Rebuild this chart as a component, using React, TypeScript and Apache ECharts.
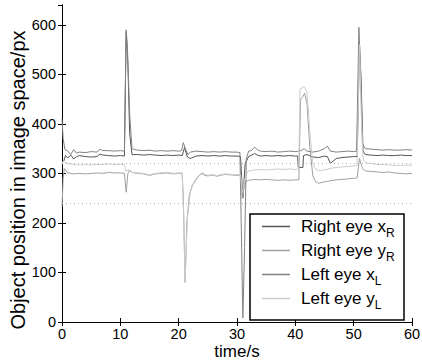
import React, { useEffect, useRef } from "react";
import * as echarts from "echarts";

// time/s vs position/px
const xL: [number, number][] = [
  [0, 410], [0.2, 370], [0.5, 348], [1, 345], [1.5, 338], [2, 348], [2.5, 341], [3, 343], [4, 342], [5, 344], [6, 343], [6.5, 349],
  [7, 346], [8, 346], [9, 345], [10, 346], [10.7, 345], [11, 590], [11.2, 560], [11.6, 420], [12, 350], [12.5, 348], [13, 347],
  [14, 346], [15, 347], [16, 345], [17, 346], [18, 345], [19, 346], [20, 345], [20.5, 346], [20.8, 362], [21.2, 348], [21.6, 338],
  [22, 343], [23, 345], [24, 344], [25, 343], [26, 344], [27, 343], [28, 344], [29, 343], [30, 343], [30.5, 342], [30.8, 150],
  [31, 8], [31.3, 150], [31.6, 330], [32, 345], [32.5, 346], [33, 353], [33.5, 348], [34, 345], [35, 344], [36, 345], [37, 343],
  [38, 344], [39, 345], [40, 344], [40.5, 345], [41, 346], [41.5, 350], [42, 345], [43, 343], [44, 345], [45, 350], [45.5, 355],
  [46, 345], [47, 343], [48, 344], [49, 345], [50, 344], [50.5, 345], [50.9, 595], [51.2, 500], [51.5, 360], [52, 350], [53, 349],
  [54, 348], [55, 347], [56, 348], [57, 347], [58, 347], [59, 348], [60, 347],
];

const xR: [number, number][] = [
  [0.3, 325], [0.6, 336], [1, 331], [1.5, 337], [2, 329], [2.5, 334], [3, 336], [4, 334], [5, 333], [6, 334], [6.5, 339], [7, 337],
  [8, 336], [9, 335], [10, 336], [10.7, 335], [11, 585], [11.3, 520], [11.6, 380], [12, 338], [13, 338], [14, 337], [15, 338],
  [16, 337], [17, 336], [18, 337], [19, 336], [20, 337], [20.6, 336], [21, 352], [21.5, 333], [22, 330], [23, 335], [24, 336],
  [25, 335], [26, 336], [27, 335], [28, 336], [29, 335], [30, 335], [30.6, 334], [31, 250], [31.4, 320], [32, 334], [33, 340],
  [33.5, 337], [34, 335], [35, 336], [36, 335], [37, 336], [38, 335], [39, 336], [40, 335], [40.4, 335], [40.5, 312], [41.3, 312],
  [41.4, 336], [42, 338], [43, 333], [44, 332], [45, 335], [45.5, 334], [46, 320], [46.5, 325], [47, 330], [48, 332], [49, 333],
  [50, 334], [50.6, 334], [51, 560], [51.3, 480], [51.6, 345], [52, 338], [53, 337], [54, 336], [55, 337], [56, 336], [57, 336],
  [58, 337], [59, 336], [60, 336],
];

const yR: [number, number][] = [
  [0, 232], [0.2, 290], [0.4, 310], [0.7, 305], [1, 301], [2, 299], [3, 300], [4, 299], [5, 300], [6, 301], [7, 300], [8, 302],
  [9, 301], [10, 301], [10.7, 300], [11, 262], [11.3, 300], [11.6, 307], [12, 302], [13, 300], [14, 299], [15, 296], [16, 299],
  [17, 300], [18, 301], [19, 299], [20, 300], [20.6, 300], [20.8, 250], [21.1, 80], [21.4, 200], [21.8, 255], [22.3, 275],
  [23, 288], [23.5, 295], [24, 300], [24.5, 296], [25, 295], [26, 297], [26.5, 294], [27, 296], [28, 298], [29, 297], [30, 296],
  [30.6, 297], [30.9, 250], [31.2, 270], [31.6, 285], [32, 286], [33, 288], [34, 287], [35, 288], [36, 287], [37, 286], [38, 287],
  [39, 286], [40, 287], [40.6, 287], [40.9, 450], [41.3, 455], [41.6, 462], [42, 440], [42.5, 350], [43, 295], [43.5, 283],
  [44, 280], [45, 283], [46, 285], [47, 287], [48, 288], [49, 289], [50, 290], [50.6, 291], [51, 330], [51.5, 310], [52, 305],
  [53, 304], [54, 303], [55, 302], [56, 303], [57, 301], [58, 300], [59, 299], [60, 300],
];

const yL: [number, number][] = [
  [0, 318], [0.2, 325], [0.5, 322], [1, 320], [2, 318], [3, 317], [4, 318], [5, 317], [6, 318], [7, 318], [8, 319], [9, 318],
  [10, 318], [10.7, 318], [11, 303], [11.3, 308], [11.7, 304], [12, 302], [13, 301], [14, 300], [15, 297], [16, 300], [17, 301],
  [18, 302], [19, 300], [20, 301], [20.6, 301], [20.9, 200], [21.1, 82], [21.5, 210], [22, 262], [22.5, 280], [23, 290],
  [24, 302], [24.5, 298], [25, 296], [26, 298], [26.5, 295], [27, 297], [28, 299], [29, 298], [30, 297], [30.6, 298], [30.9, 260],
  [31.2, 280], [31.6, 298], [32, 305], [33, 307], [34, 308], [35, 307], [36, 308], [37, 309], [38, 308], [39, 309], [40, 308],
  [40.6, 309], [40.8, 470], [41.5, 475], [42, 465], [42.5, 380], [43, 320], [43.5, 308], [44, 306], [45, 307], [46, 310],
  [47, 312], [48, 313], [49, 314], [50, 315], [50.6, 316], [51, 560], [51.3, 420], [51.6, 330], [52, 322], [53, 320], [54, 318],
  [55, 318], [56, 317], [57, 316], [58, 316], [59, 317], [60, 316],
];

const seriesNames = ["Right eye xR", "Right eye yR", "Left eye xL", "Left eye yL"];
const seriesColors = ["#555555", "#a0a0a0", "#828282", "#cccccc"];
const refLines = [320, 240];
const yTitle = "Object position in image space/px";

const FONT = "'Liberation Sans', Arial, Helvetica, sans-serif";

export default function App() {
  const ref = useRef<HTMLDivElement>(null);
  useEffect(() => {
    if (!ref.current) return;
    const chart = echarts.init(ref.current, undefined, { renderer: "svg" });
    const datasets = [xR, yR, xL, yL];
    const axisCommon = {
      axisLine: { show: true, lineStyle: { color: "#000", width: 1 } },
      axisTick: { show: true, inside: true, length: 4, lineStyle: { color: "#000" } },
      splitLine: { show: false },
    };
    chart.setOption({
      animation: false,
      backgroundColor: "#fff",
      textStyle: { fontFamily: FONT },
      grid: { left: 62, right: 10, top: 5, bottom: 42, containLabel: false, outerBoundsMode: "none" },
      xAxis: [
        {
          type: "value", min: 0, max: 60, interval: 10, position: "bottom",
          name: "time/s", nameLocation: "middle", nameGap: 21, nameMoveOverlap: false,
          nameTextStyle: { fontSize: 17, color: "#000", fontFamily: FONT, lineHeight: 17 },
          axisLabel: { fontSize: 14.5, color: "#000", margin: 5, fontFamily: FONT, lineHeight: 14 },
          ...axisCommon,
        },
        {
          type: "value", min: 0, max: 60, interval: 10, position: "top",
          axisLabel: { show: false },
          ...axisCommon,
        },
      ],
      yAxis: [
        {
          type: "value", min: 0, max: 640, interval: 100, position: "left",
          axisLabel: { fontSize: 14.5, color: "#000", margin: 6, showMaxLabel: false, fontFamily: FONT },
          ...axisCommon,
        },
        {
          type: "value", min: 0, max: 640, interval: 100, position: "right",
          axisLabel: { show: false },
          ...axisCommon,
        },
      ],
      legend: {
        orient: "vertical",
        left: 250,
        top: 212,
        padding: [6, 0, 0, 12],
        itemGap: 3,
        itemWidth: 28,
        itemHeight: 1.5,
        icon: "rect",
        z: 6,
        data: seriesNames,
        formatter: (n: string) => `{m|${n.slice(0, -1)}}{s|${n.slice(-1)}}`,
        textStyle: {
          fontFamily: FONT,
          fontSize: 17,
          color: "#000",
          rich: {
            m: { fontSize: 17, lineHeight: 17, verticalAlign: "top", color: "#000", padding: [0, 0, 0, 6], fontFamily: FONT },
            s: { fontSize: 12, lineHeight: 12, verticalAlign: "top", color: "#000", padding: [9, 0, 0, 0], fontFamily: FONT },
          },
        },
      },
      graphic: [
        {
          type: "rect",
          z: 5,
          shape: { x: 250, y: 214, width: 154, height: 106 },
          style: { fill: "#fff", stroke: "#000", lineWidth: 1.5 },
        },
        {
          type: "text",
          z: 5,
          x: 18,
          y: 180,
          rotation: Math.PI / 2,
          style: {
            text: yTitle,
            fontSize: 20,
            fontFamily: FONT,
            fill: "#000",
            align: "center",
            verticalAlign: "middle",
          },
        },
      ],
      series: datasets.map((d, i) => ({
        name: seriesNames[i],
        type: "line",
        data: d,
        symbol: "none",
        showSymbol: false,
        color: seriesColors[i],
        lineStyle: { width: 1, color: seriesColors[i] },
        z: 2 + i * 0.1,
        markLine:
          i === 0
            ? {
                silent: true,
                symbol: ["none", "none"],
                label: { show: false },
                lineStyle: { type: [1, 3], color: "#b0b0b0", width: 1 },
                data: refLines.map((v) => ({ yAxis: v })),
              }
            : undefined,
      })),
    });
    return () => chart.dispose();
  }, []);
  return (
    <div
      ref={ref}
      style={{ position: "absolute", left: 0, top: 0, width: 422, height: 364 }}
    />
  );
}
